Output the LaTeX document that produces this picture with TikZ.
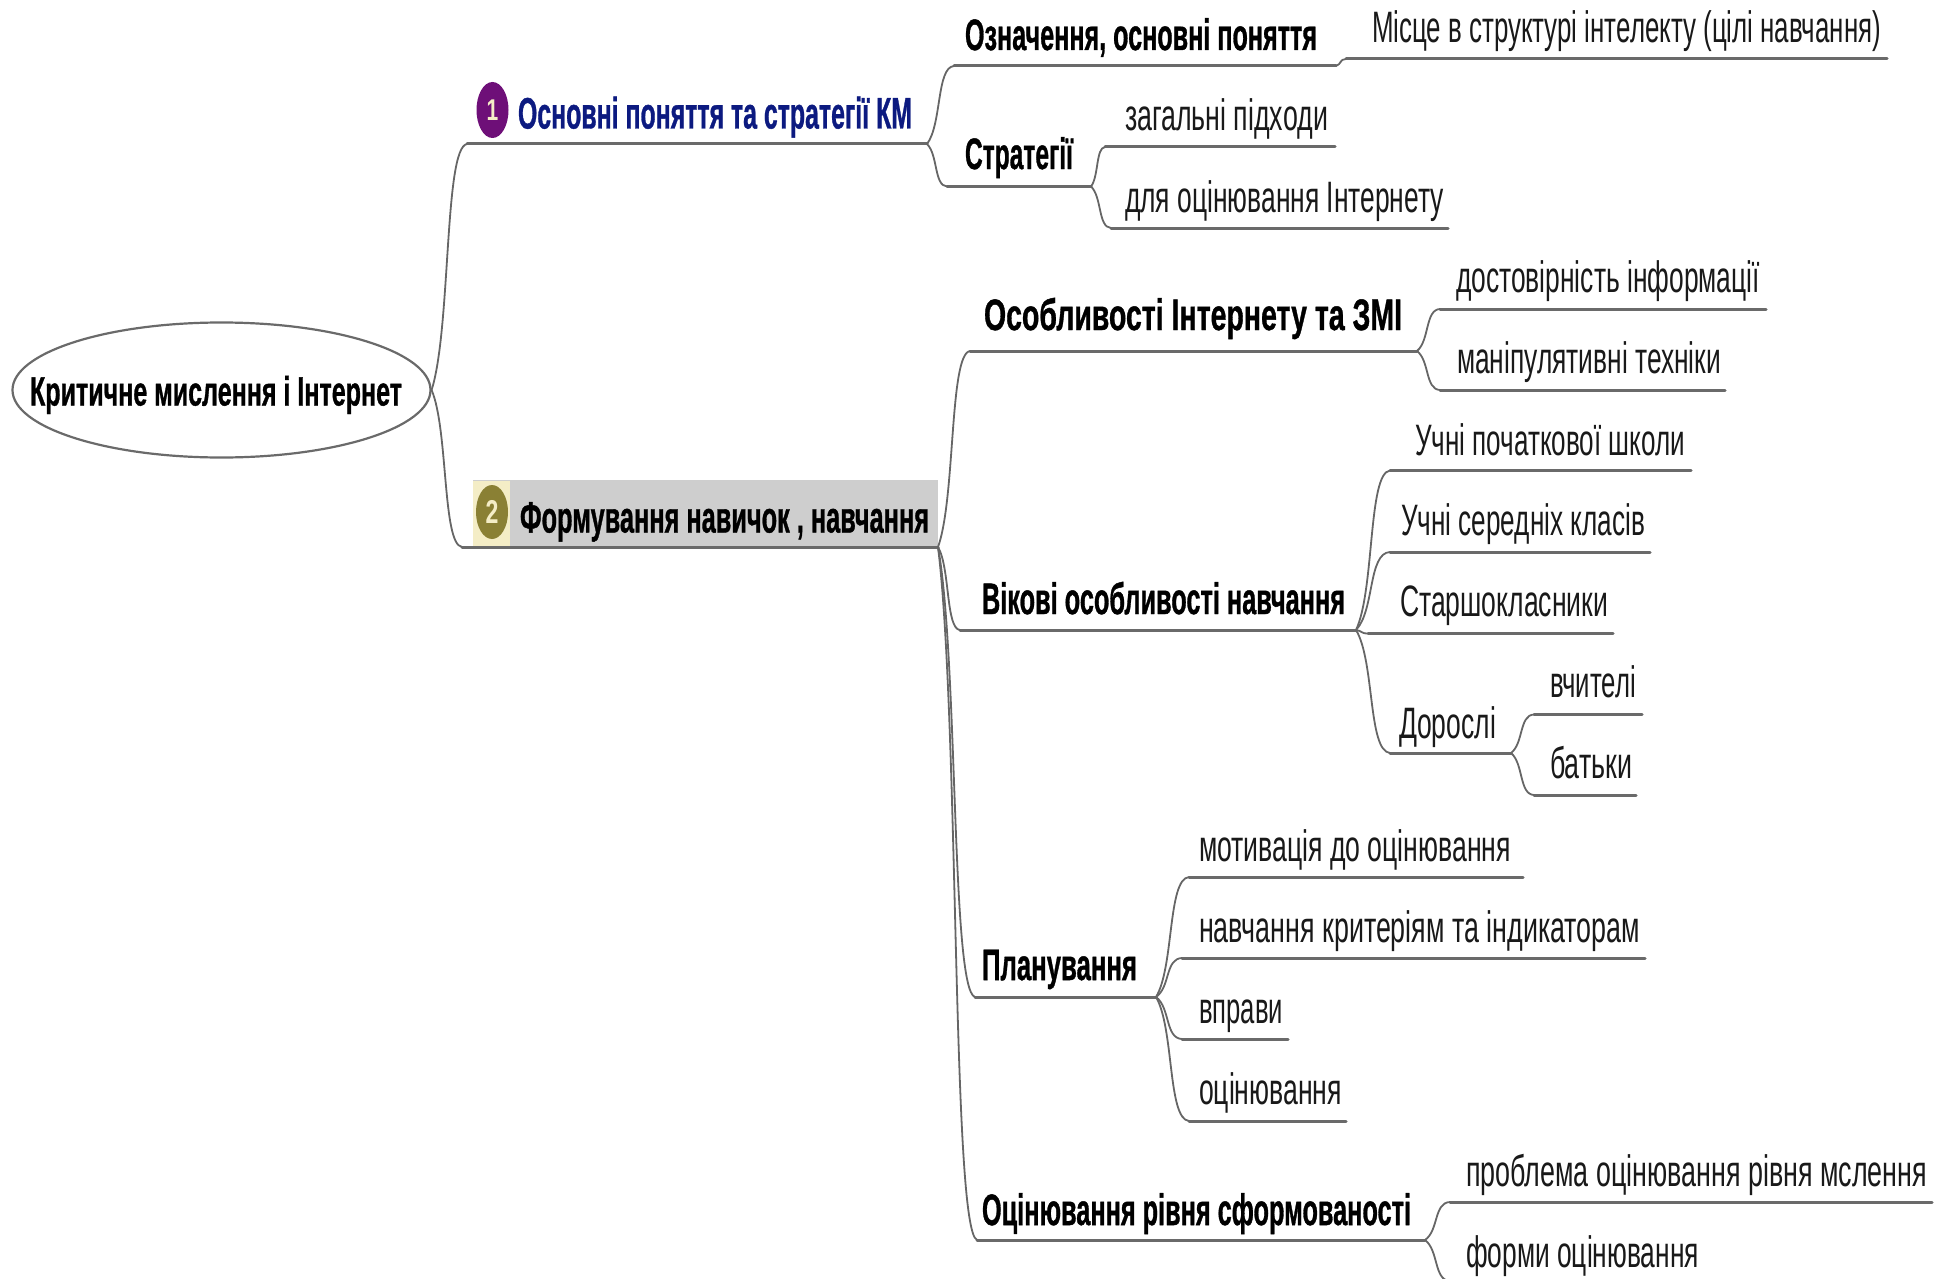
\documentclass[tikz,border=0pt]{standalone}
\usepackage{fontspec}
\setmainfont{Liberation Sans}
\newfontface\heavyface[FakeBold=1.1]{Liberation Sans Bold}
\usetikzlibrary{shapes.geometric,calc}
\definecolor{linegray}{HTML}{6A6A6A}
\definecolor{curvegray}{HTML}{666666}
\definecolor{navy1}{HTML}{0C1A80}
\definecolor{purple1}{HTML}{6E0F78}
\definecolor{olive1}{HTML}{8A8034}
\definecolor{cream1}{HTML}{F4EDC6}
\definecolor{band1}{HTML}{CECECE}
\tikzset{
  ul/.style={draw=linegray,line width=3pt,line cap=round},
  bra/.style={draw=curvegray,line width=1.8pt,to path={
    let \p1=(\tikztostart),\p2=(\tikztotarget) in
    .. controls ({\x1+.55*(\x2-\x1)},{\y1+.25*(\y2-\y1)}) and ({\x1+.35*(\x2-\x1)},{\y1+.985*(\y2-\y1)}) .. (\p2)}},
  bold/.style={inner sep=0pt,outer sep=0pt,anchor=base west,font=\fontsize{44}{44}\heavyface},
  plain/.style={inner sep=0pt,outer sep=0pt,anchor=base west,font=\fontsize{44}{44}\selectfont,text=black!90},
  mainb/.style={bold,text=navy1},
  badge/.style={ellipse,inner sep=0pt,minimum width=32pt,font=\bfseries},
}
% name, underline x1, x2, y, text x, text width, baseline, style, text
\newcommand\topic[9]{%
  \coordinate (#1-l) at (#2,#4);
  \coordinate (#1-r) at (#3,#4);
  \draw[ul] (#1-l) -- (#1-r);
  \node[#8] (#1) at (#5,#7) {\resizebox{#6pt}{\height}{#9}};
}
\begin{document}
\begin{tikzpicture}[x=1pt,y=-1pt]
\useasboundingbox (0,0) rectangle (1952,1279);
% highlighted band of the second branch
\fill[band1] (473,480) rectangle (938,547);
\fill[cream1] (473,481) rectangle (510,546);
% root
\node[ellipse,draw=linegray,line width=2.2pt,minimum width=418pt,minimum height=135pt,inner sep=0pt] (root) at (221.5,390) {};
\node[bold,font=\fontsize{41}{41}\heavyface] (roott) at (30,405.5) {\resizebox{372pt}{\height}{Критичне мислення і Інтернет}};
% level 1
\topic{a}{467}{927}{144}{518}{394}{128.5}{mainb}{Основні поняття та стратегії КМ}
\topic{b}{462}{938}{547}{520}{409}{532.5}{bold}{Формування навичок , навчання}
\node[badge,fill=purple1,minimum height=56pt,text=cream1,font=\fontsize{30}{30}\selectfont\bfseries] (ia) at (492.5,110) {\scalebox{.7}[1]{1}};
\node[badge,fill=olive1,minimum height=54pt,text=cream1,font=\fontsize{33}{33}\selectfont\bfseries] (ib) at (492,512) {\scalebox{.7}[1]{2}};
% branch 1
\topic{a1}{954}{1336}{66}{965}{352}{50}{bold}{Означення, основні поняття}
\topic{a11}{1346}{1887}{59}{1372}{509}{43}{plain}{Місце в структурі інтелекту (цілі навчання)}
\topic{a2}{947}{1091}{186.5}{965}{108}{169}{bold}{Стратегії}
\topic{a21}{1105}{1335}{147}{1125}{203}{131}{plain}{загальні підходи}
\topic{a22}{1111}{1448}{228}{1125}{319}{212}{plain}{для оцінювання Інтернету}
% branch 2
\topic{b1}{970}{1417}{351}{984}{418}{330}{bold}{Особливості Інтернету та ЗМІ}
\topic{b11}{1440}{1766}{309}{1456}{304}{292}{plain}{достовірність інформації}
\topic{b12}{1440}{1725}{390}{1457}{264}{373.5}{plain}{маніпулятивні техніки}
\topic{b2}{960}{1356}{630}{982}{363}{614}{bold}{Вікові особливості навчання}
\topic{b21}{1390}{1691}{470.5}{1415}{270}{455}{plain}{Учні початкової школи}
\topic{b22}{1390}{1650}{552}{1401}{244}{535.5}{plain}{Учні середніх класів}
\topic{b23}{1368}{1613}{633.5}{1400}{208}{616}{plain}{Старшокласники}
\topic{b24}{1390}{1511}{753}{1399}{97}{738}{plain}{Дорослі}
\topic{b241}{1534}{1642}{714.5}{1550}{86}{697}{plain}{вчителі}
\topic{b242}{1534}{1636}{795}{1550}{82}{778.5}{plain}{батьки}
\topic{b3}{975}{1156}{997}{982}{155}{980}{bold}{Планування}
\topic{b31}{1189}{1523}{877}{1199}{312}{861}{plain}{мотивація до оцінювання}
\topic{b32}{1182}{1645}{958}{1199}{441}{942}{plain}{навчання критеріям та індикаторам}
\topic{b33}{1182}{1288}{1039}{1199}{84}{1023}{plain}{вправи}
\topic{b34}{1189}{1346}{1121}{1199}{143}{1104.5}{plain}{оцінювання}
\topic{b4}{977}{1425}{1240}{982}{429}{1225}{bold}{Оцінювання рівня сформованості}
\topic{b41}{1450}{1932}{1202}{1466}{461}{1186}{plain}{проблема оцінювання рівня мслення}
\topic{b42}{1450}{1706}{1281}{1466}{233}{1267}{plain}{форми оцінювання}
% connectors
\draw[bra] (root.east) to (a-l);
\draw[bra] (root.east) to (b-l);
\draw[bra] (a-r) to (a1-l);
\draw[bra] (a-r) to (a2-l);
\draw[bra] (a1-r) to (a11-l);
\draw[bra] (a2-r) to (a21-l);
\draw[bra] (a2-r) to (a22-l);
\draw[bra] (b-r) to (b1-l);
\draw[bra] (b-r) to (b2-l);
\draw[bra] (b-r) to (b3-l);
\draw[bra] (b-r) to (b4-l);
\draw[bra] (b1-r) to (b11-l);
\draw[bra] (b1-r) to (b12-l);
\draw[bra] (b2-r) to (b21-l);
\draw[bra] (b2-r) to (b22-l);
\draw[bra] (b2-r) to (b23-l);
\draw[bra] (b2-r) to (b24-l);
\draw[bra] (b24-r) to (b241-l);
\draw[bra] (b24-r) to (b242-l);
\draw[bra] (b3-r) to (b31-l);
\draw[bra] (b3-r) to (b32-l);
\draw[bra] (b3-r) to (b33-l);
\draw[bra] (b3-r) to (b34-l);
\draw[bra] (b4-r) to (b41-l);
\draw[bra] (b4-r) to (b42-l);
\end{tikzpicture}
\end{document}
